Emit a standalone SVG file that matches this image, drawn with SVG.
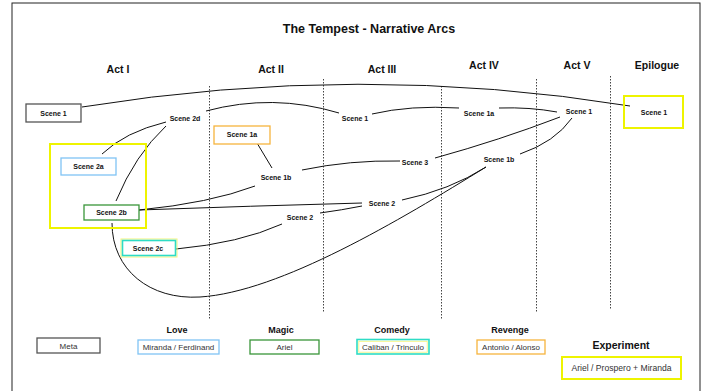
<svg xmlns="http://www.w3.org/2000/svg" width="708" height="391" viewBox="0 0 708 391">
<style>
.t{font-family:"Liberation Sans",Arial,sans-serif;fill:#111;text-anchor:middle}
.title{font-size:12.5px;font-weight:bold}
.act{font-size:10.5px;font-weight:bold}
.sc{font-size:7px;font-weight:bold}
.lh{font-size:9px;font-weight:bold}
.lt{font-size:8px;fill:#333}
.box{fill:#fff;stroke-width:1.3}
.gray{stroke:#555}
.blue{stroke:#80c4f4}
.green{stroke:#3a963a}
.turq{stroke:#2edcc6;stroke-width:1.6}
.orange{stroke:#f6b43e}
.yel{fill:none;stroke:#eef400;stroke-width:2}
.div{stroke:#444;stroke-width:1;stroke-dasharray:1.5 1.5;fill:none}
.c{fill:none;stroke:#111;stroke-width:1}
</style>
<rect x="0" y="0" width="708" height="391" fill="#fff"/>
<rect x="12" y="3" width="688" height="400" fill="none" stroke="#222" stroke-width="1"/>
<text class="t title" x="369" y="33">The Tempest - Narrative Arcs</text>
<g id="acts">
<text class="t act" x="118" y="73">Act I</text>
<text class="t act" x="271" y="73">Act II</text>
<text class="t act" x="382" y="73">Act III</text>
<text class="t act" x="484" y="69">Act IV</text>
<text class="t act" x="577" y="69">Act V</text>
<text class="t act" x="657" y="69">Epilogue</text>
</g>
<g id="dividers">
<line class="div" x1="209.5" y1="86" x2="209.5" y2="320"/>
<line class="div" x1="323.5" y1="79" x2="323.5" y2="313"/>
<line class="div" x1="441.5" y1="86" x2="441.5" y2="320"/>
<line class="div" x1="536.5" y1="79" x2="536.5" y2="313"/>
<line class="div" x1="610.5" y1="76" x2="610.5" y2="310"/>
</g>
<g id="connectors">
<path class="c" d="M82,107 Q360,62 630,106"/>
<path class="c" d="M206,111 Q273,93 339,113"/>
<path class="c" d="M372,114 Q410,105 459,108"/>
<path class="c" d="M499,108 Q530,107 557,112"/>
<path class="c" d="M166,122 Q125,132 102,154"/>
<path class="c" d="M166,126 Q135,155 116,201"/>
<path class="c" d="M257,143 L272,168"/>
<path class="c" d="M302,170 Q350,160 400,161"/>
<path class="c" d="M435,158 Q500,140 560,117"/>
<path class="c" d="M139,210 Q210,203 255,186"/>
<path class="c" d="M139,210 Q250,206 362,203"/>
<path class="c" d="M320,213 Q342,210 362,206"/>
<path class="c" d="M402,200 Q450,190 486,167"/>
<path class="c" d="M176,249 Q240,243 282,224"/>
<path class="c" d="M112,223 C112,270 150,300 200,297 C280,292 400,220 486,167"/>
<path class="c" d="M572,118 Q555,142 520,154"/>
</g>
<g id="act1-scene1"><rect class="box gray" x="26" y="104" width="55" height="18"/><text class="t sc" x="53.5" y="115.5">Scene 1</text></g>
<g id="act1-scene2d"><text class="t sc" x="185" y="120.5">Scene 2d</text></g>
<g id="act1-group"><rect class="yel" x="50" y="144" width="96" height="84"/></g>
<g id="act1-scene2a"><rect class="box blue" x="61" y="158" width="55" height="17"/><text class="t sc" x="88.5" y="169">Scene 2a</text></g>
<g id="act1-scene2b"><rect class="box green" x="84" y="205" width="55" height="15"/><text class="t sc" x="111.5" y="215">Scene 2b</text></g>
<g id="act1-scene2c"><rect x="121" y="239" width="56" height="18" fill="none" stroke="#f4f47a" stroke-width="1"/><rect class="box turq" x="122.5" y="240.5" width="53" height="15"/><text class="t sc" x="148" y="251">Scene 2c</text></g>
<g id="act2-scene1a"><rect class="box orange" x="214" y="126" width="56" height="18"/><text class="t sc" x="242" y="137">Scene 1a</text></g>
<g id="act2-scene1b"><text class="t sc" x="276" y="179.5">Scene 1b</text></g>
<g id="act2-scene2"><text class="t sc" x="300" y="219.5">Scene 2</text></g>
<g id="act3-scene1"><text class="t sc" x="355" y="120.5">Scene 1</text></g>
<g id="act3-scene3"><text class="t sc" x="415" y="164.5">Scene 3</text></g>
<g id="act3-scene2"><text class="t sc" x="382" y="205.5">Scene 2</text></g>
<g id="act4-scene1a"><text class="t sc" x="479" y="115.5">Scene 1a</text></g>
<g id="act4-scene1b"><text class="t sc" x="499" y="161.5">Scene 1b</text></g>
<g id="act5-scene1"><text class="t sc" x="579" y="113.5">Scene 1</text></g>
<g id="epilogue-scene1"><rect class="yel" x="624" y="96" width="59" height="32"/><text class="t sc" x="654" y="114.5">Scene 1</text></g>
<g id="legend">
<rect class="box gray" x="37" y="338" width="63" height="15"/><text class="t lt" x="68.5" y="348.5">Meta</text>
<text class="t lh" x="177" y="333">Love</text>
<rect class="box blue" x="138" y="340" width="81" height="14"/><text class="t lt" x="178.5" y="350">Miranda / Ferdinand</text>
<text class="t lh" x="281" y="333">Magic</text>
<rect class="box green" x="250" y="340" width="69" height="14"/><text class="t lt" x="284.5" y="350">Ariel</text>
<text class="t lh" x="392" y="333">Comedy</text>
<rect class="box turq" x="357" y="339.5" width="72" height="14.5"/><rect x="358.8" y="341.3" width="68.4" height="10.9" fill="none" stroke="#f4f47a" stroke-width="0.8"/><text class="t lt" x="393" y="350">Caliban / Trinculo</text>
<text class="t lh" x="510" y="333">Revenge</text>
<rect class="box orange" x="477" y="340" width="68" height="14"/><text class="t lt" x="511" y="350">Antonio / Alonso</text>
<text class="t" style="font-size:10.5px;font-weight:bold" x="621" y="349">Experiment</text>
<rect class="yel" x="562" y="357" width="119" height="22"/><text class="t" style="font-size:8.6px;fill:#333" x="621.5" y="371">Ariel / Prospero + Miranda</text>
</g>
</svg>
